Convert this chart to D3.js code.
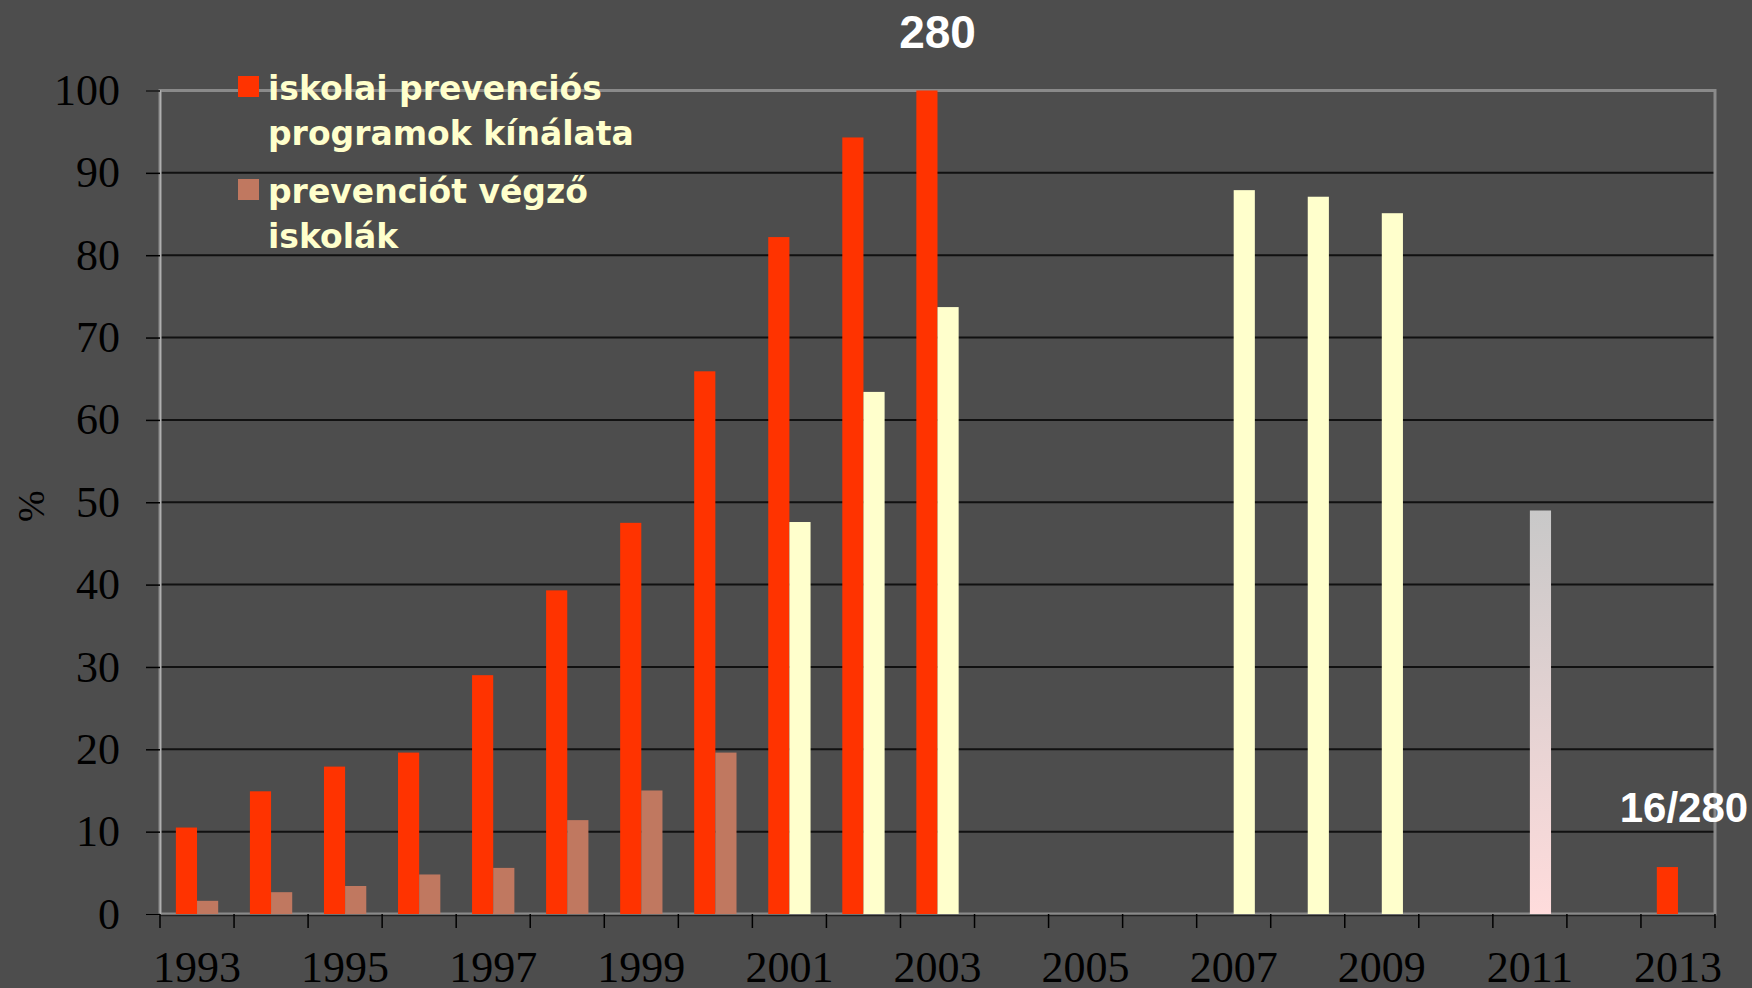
<!DOCTYPE html>
<html>
<head>
<meta charset="utf-8">
<script src="https://cdn.jsdelivr.net/npm/d3@7/dist/d3.min.js"></script>
<style>
  html, body { margin: 0; padding: 0; background: #4d4d4d; }
  svg { display: block; }
</style>
</head>
<body>
<div id="chart"></div>
<script>
// categories
const years = [1993, 1994, 1995, 1996, 1997, 1998, 1999, 2000, 2001, 2002, 2003,
  2004, 2005, 2006, 2007, 2008, 2009, 2010, 2011, 2012, 2013];

// iskolai prevenciós programok kínálata (%)
const programOffer = [10.5, 14.9, 17.9, 19.6, 29.0, 39.3, 47.5, 65.9, 82.2, 94.3, 100,
  null, null, null, null, null, null, null, null, null, 5.7];

// prevenciót végző iskolák (%)
const schoolsDoing = [1.6, 2.65, 3.4, 4.8, 5.6, 11.4, 15.0, 19.6, 47.6, 63.4, 73.7,
  null, null, null, 87.9, 87.1, 85.1, null, 49.0, null, null];

const yTicks = [0, 10, 20, 30, 40, 50, 60, 70, 80, 90, 100];
const xLabelYears = [1993, 1995, 1997, 1999, 2001, 2003, 2005, 2007, 2009, 2011, 2013];

const legendItems = [
  {lines: ['iskolai prevenciós', 'programok kínálata'], color: '#ff3300'},
  {lines: ['prevenciót végző', 'iskolák'], color: '#c07860'}
];

const annotations = [
  {year: 2003, text: '280', size: 46, y: 48, dx: 0},
  {year: 2013, text: '16/280', size: 42, y: 822, dx: 6}
];

const width = 1752, height = 988;
const margin = {top: 90.5, right: 37, bottom: 74, left: 160};

const svg = d3.select('#chart').append('svg')
  .attr('width', width)
  .attr('height', height);

svg.append('rect')
  .attr('width', width)
  .attr('height', height)
  .attr('fill', '#4d4d4d');

const defs = svg.append('defs');
const grad = defs.append('linearGradient')
  .attr('id', 'fade2011')
  .attr('x1', 0).attr('y1', 0).attr('x2', 0).attr('y2', 1);
grad.append('stop').attr('offset', '0%').attr('stop-color', '#c8c8c8');
grad.append('stop').attr('offset', '100%').attr('stop-color', '#ffdcdc');

const x = d3.scaleBand()
  .domain(years)
  .range([margin.left, width - margin.right])
  .padding(0);

const xInner = d3.scaleBand()
  .domain([0, 1])
  .range([0, x.bandwidth()])
  .paddingInner(0)
  .paddingOuter(0.75);

const y = d3.scaleLinear()
  .domain([0, 100])
  .range([height - margin.bottom, margin.top]);

// gridlines
svg.append('g')
  .selectAll('line')
  .data(yTicks.filter(d => d > 0 && d < 100))
  .join('line')
  .attr('x1', margin.left)
  .attr('x2', width - margin.right)
  .attr('y1', d => y(d))
  .attr('y2', d => y(d))
  .attr('stroke', '#111')
  .attr('stroke-width', 2);

// plot area border
svg.append('rect')
  .attr('x', margin.left)
  .attr('y', y(100))
  .attr('width', width - margin.right - margin.left)
  .attr('height', y(0) - y(100))
  .attr('fill', 'none')
  .attr('stroke', '#8a8a8a')
  .attr('stroke-width', 3);

// bars
function secondColor(year) {
  if (year <= 2000) return '#c07860';
  if (year === 2011) return 'url(#fade2011)';
  return '#ffffcc';
}

const rows = years.map((yr, i) => ({year: yr, a: programOffer[i], b: schoolsDoing[i]}));

svg.append('g')
  .selectAll('rect')
  .data(rows.filter(d => d.a != null))
  .join('rect')
  .attr('x', d => x(d.year) + xInner(0))
  .attr('width', xInner.bandwidth())
  .attr('y', d => y(d.a))
  .attr('height', d => y(0) - y(d.a))
  .attr('fill', '#ff3300');

svg.append('g')
  .selectAll('rect')
  .data(rows.filter(d => d.b != null))
  .join('rect')
  .attr('x', d => x(d.year) + xInner(1))
  .attr('width', xInner.bandwidth())
  .attr('y', d => y(d.b))
  .attr('height', d => y(0) - y(d.b))
  .attr('fill', d => secondColor(d.year));

// y axis
const yAxis = svg.append('g')
  .attr('transform', `translate(${margin.left},0)`)
  .call(d3.axisLeft(y).tickValues(yTicks).tickSize(14).tickPadding(26));
yAxis.select('.domain').attr('stroke', '#b0b0b0').attr('stroke-width', 1.5);
yAxis.selectAll('.tick line').attr('stroke', '#000').attr('stroke-width', 1.5);
yAxis.selectAll('.tick text')
  .attr('fill', '#000')
  .style('font-family', '"Liberation Serif", "Times New Roman", serif')
  .style('font-size', '44px');

// x axis: ticks between categories, labels every other year
const xAxisG = svg.append('g')
  .attr('transform', `translate(0,${y(0)})`);
xAxisG.append('line')
  .attr('x1', margin.left)
  .attr('x2', width - margin.right)
  .attr('y1', 1.5).attr('y2', 1.5)
  .attr('stroke', '#222')
  .attr('stroke-width', 1.5);
xAxisG.selectAll('line.tick')
  .data(years.map(d => x(d)).concat([width - margin.right]))
  .join('line')
  .attr('class', 'tick')
  .attr('x1', d => d).attr('x2', d => d)
  .attr('y1', 0).attr('y2', 14)
  .attr('stroke', '#000')
  .attr('stroke-width', 1.5);
xAxisG.selectAll('text')
  .data(xLabelYears)
  .join('text')
  .attr('x', d => x(d) + x.bandwidth() / 2)
  .attr('y', 68)
  .attr('text-anchor', 'middle')
  .attr('fill', '#000')
  .style('font-family', '"Liberation Serif", "Times New Roman", serif')
  .style('font-size', '44px')
  .text(d => d);

// y axis title
svg.append('text')
  .attr('transform', `translate(44,${(y(0) + y(100)) / 2 + 4}) rotate(-90)`)
  .attr('text-anchor', 'middle')
  .attr('fill', '#000')
  .style('font-family', '"Liberation Serif", "Times New Roman", serif')
  .style('font-size', '38px')
  .text('%');

// legend
const legend = svg.append('g').attr('transform', 'translate(238,0)');
const lineGap = 45;
const blockTops = [100, 203];
legendItems.forEach((item, i) => {
  const base = blockTops[i];
  legend.append('rect')
    .attr('x', 0)
    .attr('y', base - 24)
    .attr('width', 21)
    .attr('height', 21)
    .attr('fill', item.color);
  item.lines.forEach((ln, j) => {
    legend.append('text')
      .attr('x', 30)
      .attr('y', base + j * lineGap)
      .attr('fill', '#ffffcc')
      .style('font-family', '"DejaVu Sans", Verdana, sans-serif')
      .style('font-weight', 'bold')
      .style('font-size', '33px')
      .text(ln);
  });
});

// annotations
svg.append('g')
  .selectAll('text')
  .data(annotations)
  .join('text')
  .attr('x', d => x(d.year) + x.bandwidth() / 2 + d.dx)
  .attr('y', d => d.y)
  .attr('text-anchor', 'middle')
  .attr('fill', '#fff')
  .style('font-family', '"Liberation Sans", Arial, sans-serif')
  .style('font-weight', 'bold')
  .style('font-size', d => d.size + 'px')
  .text(d => d.text);
</script>
</body>
</html>
